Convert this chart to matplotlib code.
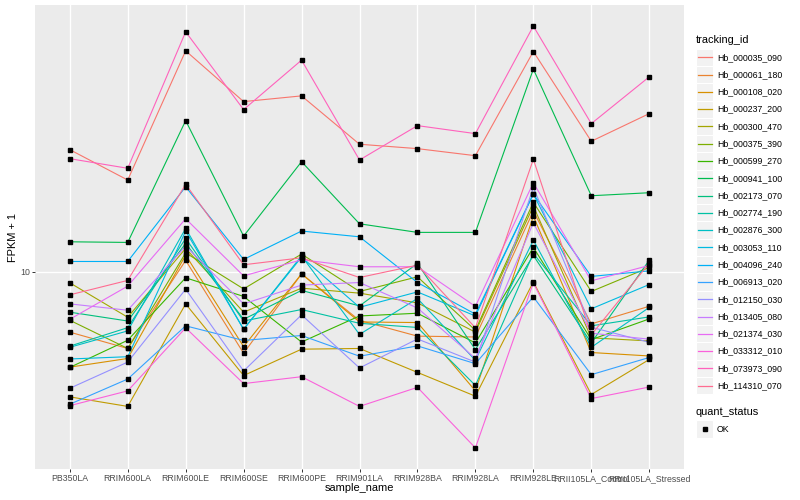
import matplotlib
matplotlib.use("Agg")
import matplotlib.pyplot as plt
import numpy as np
from matplotlib.patches import Rectangle
from matplotlib.lines import Line2D

plt.rcParams['font.family'] = ['Liberation Sans', 'DejaVu Sans']

# samples on the x axis
samples = ["PB350LA", "RRIM600LA", "RRIM600LE", "RRIM600SE", "RRIM600PE",
           "RRIM901LA", "RRIM928BA", "RRIM928LA", "RRIM928LE",
           "RRII105LA_Control", "RRII105LA_Stressed"]

tracking_ids = ["Hb_000035_090", "Hb_000061_180", "Hb_000108_020", "Hb_000237_200",
                "Hb_000300_470", "Hb_000375_390", "Hb_000599_270", "Hb_000941_100",
                "Hb_002173_070", "Hb_002774_190", "Hb_002876_300", "Hb_003053_110",
                "Hb_004096_240", "Hb_006913_020", "Hb_012150_030", "Hb_013405_080",
                "Hb_021374_030", "Hb_033312_010", "Hb_073973_090", "Hb_114310_070"]

# FPKM + 1, one list per gene (same order as samples)
hb_000035_090 = [25.47, 20.18, 54.33, 36.81, 38.46, 26.55, 25.67, 24.32, 54.04, 27.16, 33.57]
hb_000061_180 = [6.29, 5.55, 10.90, 5.35, 9.83, 6.88, 6.10, 6.06, 15.91, 6.70, 7.67]
hb_000108_020 = [4.81, 5.14, 11.35, 5.63, 9.83, 6.80, 6.77, 4.01, 15.31, 5.38, 5.24]
hb_000237_200 = [3.83, 3.56, 7.81, 4.51, 5.52, 5.55, 4.62, 3.85, 9.25, 3.90, 5.10]
hb_000300_470 = [9.18, 7.05, 11.95, 7.33, 8.81, 8.48, 7.87, 6.29, 16.53, 6.02, 5.88]
hb_000375_390 = [6.89, 5.55, 11.55, 8.76, 11.44, 8.59, 9.61, 6.38, 17.01, 8.59, 10.33]
hb_000599_270 = [4.80, 5.91, 9.54, 8.27, 5.83, 7.12, 7.27, 5.79, 12.04, 5.94, 6.96]
hb_000941_100 = [12.57, 12.51, 31.82, 13.13, 23.23, 14.43, 13.51, 13.51, 47.21, 17.89, 18.31]
hb_002173_070 = [7.33, 6.85, 12.42, 6.94, 8.66, 7.69, 10.65, 5.50, 11.32, 5.79, 10.92]
hb_002774_190 = [5.65, 6.51, 12.90, 6.85, 7.48, 6.73, 6.52, 4.18, 11.50, 6.60, 7.07]
hb_002876_300 = [5.60, 6.35, 13.93, 6.43, 11.29, 6.18, 8.14, 5.07, 12.74, 5.60, 7.60]
hb_003053_110 = [5.12, 5.21, 13.65, 6.43, 11.18, 7.61, 8.56, 7.12, 18.13, 7.52, 9.06]
hb_004096_240 = [10.81, 10.81, 19.17, 10.98, 13.65, 13.06, 9.20, 7.22, 18.13, 9.64, 10.06]
hb_006913_020 = [3.62, 4.39, 6.60, 5.90, 6.13, 5.23, 5.66, 4.94, 8.24, 4.54, 5.18]
hb_012150_030 = [4.09, 5.00, 8.74, 4.67, 7.18, 4.78, 5.97, 5.00, 19.08, 6.53, 5.82]
hb_013405_080 = [7.81, 7.44, 12.16, 7.81, 9.02, 9.20, 7.57, 5.14, 14.54, 6.24, 5.96]
hb_021374_030 = [6.94, 8.95, 15.00, 9.68, 10.95, 10.38, 10.38, 7.66, 19.77, 9.32, 10.49]
hb_033312_010 = [3.58, 4.01, 6.50, 4.24, 4.47, 3.56, 4.12, 2.59, 9.18, 3.78, 4.13]
hb_073973_090 = [23.77, 22.08, 62.85, 34.62, 50.58, 23.53, 30.62, 28.80, 65.66, 31.09, 44.50]
hb_114310_070 = [8.37, 9.35, 19.53, 10.54, 11.12, 9.56, 10.51, 6.50, 23.66, 6.16, 10.67]

series = [hb_000035_090, hb_000061_180, hb_000108_020, hb_000237_200, hb_000300_470,
          hb_000375_390, hb_000599_270, hb_000941_100, hb_002173_070, hb_002774_190,
          hb_002876_300, hb_003053_110, hb_004096_240, hb_006913_020, hb_012150_030,
          hb_013405_080, hb_021374_030, hb_033312_010, hb_073973_090, hb_114310_070]

# ggplot default hue palette for 20 levels
colors = ["#F8766D", "#EA8331", "#D89000", "#C09B00", "#A3A500", "#7CAE00", "#39B600",
          "#00BB4E", "#00BF7D", "#00C1A3", "#00BFC4", "#00BAE0", "#00B0F6", "#35A2FF",
          "#9590FF", "#C77CFF", "#E76BF3", "#FA62DB", "#FF62BC", "#FF6C91"]

W, H = 800, 500
fig = plt.figure(figsize=(8, 5), dpi=100)
ax = fig.add_axes([35 / W, 1 - 469 / H, 649 / W, 464 / H])
ax.set_facecolor("#EBEBEB")
for s in ax.spines.values():
    s.set_visible(False)

x = np.arange(len(samples))
for vals, col in zip(series, colors):
    ax.plot(x, vals, color=col, lw=0.8, zorder=2)
for vals in series:
    ax.plot(x, vals, ls="none", marker="s", ms=2.2, color="black", zorder=3)

ax.set_yscale("log")
allv = np.log10(np.concatenate(series))
lo, hi = allv.min(), allv.max()
pad = (hi - lo) * 0.05
ax.set_ylim(10 ** (lo - pad), 10 ** (hi + pad))
ax.set_xlim(-0.6, len(samples) - 0.4)

ax.set_yticks([10])
ax.set_yticklabels(["10"])
ax.yaxis.set_minor_locator(matplotlib.ticker.NullLocator())
ax.set_xticks(x)
ax.set_xticklabels(samples)
ax.tick_params(axis="both", length=2.0, width=0.7, color="#333333",
               labelsize=6.3, labelcolor="#4D4D4D", pad=1.5)
ax.grid(True, color="white", lw=1.0, zorder=0)
ax.set_axisbelow(True)

fig.text(359 / W, 1 - 488 / H, "sample_name", ha="center", va="center", fontsize=7.9)
fig.text(13 / W, 1 - 237 / H, "FPKM + 1", ha="center", va="center", rotation=90, fontsize=7.9)

# legend drawn in pixel coordinates on an overlay
lg = fig.add_axes([0, 0, 1, 1], facecolor="none")
lg.set_xlim(0, W)
lg.set_ylim(H, 0)
lg.axis("off")
lg.text(696, 40, "tracking_id", ha="left", va="center", fontsize=7.9)
step = 17.28
for i, (name, col) in enumerate(zip(tracking_ids, colors)):
    cy = 57.3 + i * step
    lg.add_patch(Rectangle((696, cy - step / 2), step, step, facecolor="#F2F2F2",
                           edgecolor="white", lw=0.8))
    lg.add_line(Line2D([698, 712], [cy, cy], color=col, lw=0.9))
    lg.text(717, cy, name, ha="left", va="center", fontsize=6.3)

lg.text(696, 411.7, "quant_status", ha="left", va="center", fontsize=7.9)
lg.add_patch(Rectangle((696, 429 - step / 2), step, step, facecolor="#F2F2F2",
                       edgecolor="white", lw=0.8))
lg.plot([705], [429], ls="none", marker="s", ms=2.2, color="black")
lg.text(717, 429, "OK", ha="left", va="center", fontsize=6.3)

fig.savefig("out.png", dpi=100)
